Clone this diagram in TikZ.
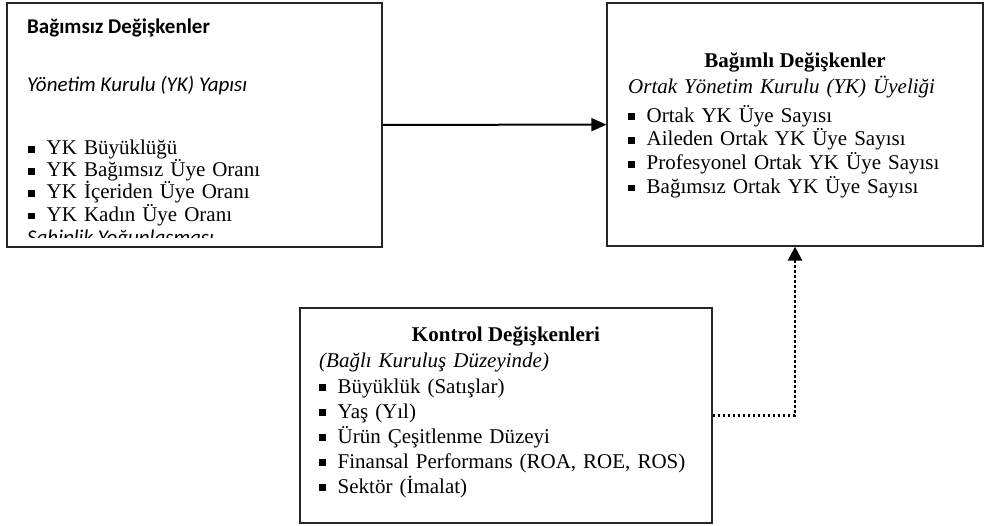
\documentclass[tikz,border=0pt]{standalone}
\usepackage{fontspec}
\setmainfont{Liberation Serif}
\newfontfamily\calibri{Carlito}
\usetikzlibrary{arrows.meta,positioning}
\newcommand{\kare}{\makebox[18.5pt][l]{\rule[1.8pt]{6.8pt}{6.8pt}}}
\tikzset{
  panel/.style={draw=black!85, line width=1.3pt, inner sep=0pt},
  head/.style={inner sep=0pt, anchor=base, font=\fontsize{21}{24}\selectfont\bfseries},
  lst/.style={inner sep=0pt, align=left, anchor=base west, text width=380pt},
  arrow/.style={-{Triangle[length=15pt,width=13pt]}, line width=2pt},
  dotarrow/.style={-{Triangle[length=14pt,width=14pt]}, line width=2.6pt, dash pattern=on 2.6pt off 2.4pt}
}
\begin{document}
\begin{tikzpicture}[x=1pt,y=-1pt]
\useasboundingbox (0,0) rectangle (984,525);
% frames
\node[panel, minimum width=375pt, minimum height=244pt] (lb) at (194.5,125) {};
\node[panel, minimum width=376pt, minimum height=243pt] (rb) at (795,124.5) {};
\node[panel, minimum width=412pt, minimum height=215pt] (cb) at (506,415.5) {};
% left box
\node[inner sep=0pt, anchor=base west, font=\calibri\fontsize{21}{24}\selectfont\bfseries] (lbhead) at (27,33) {Bağımsız Değişkenler};
\node[inner sep=0pt, anchor=base west, font=\calibri\fontsize{21}{24}\selectfont\itshape] (lbsub) at (27,91) {Yönetim Kurulu (YK) Yapısı};
\node[lst, text width=330pt, font=\fontsize{21}{22.2}\selectfont] (lblist) at (28,154.5) {\kare YK Büyüklüğü\\ \kare YK Bağımsız Üye Oranı\\ \kare YK İçeriden Üye Oranı\\ \kare YK Kadın Üye Oranı};
\begin{scope}
\clip (lb.north west) rectangle ([yshift=10pt]lb.south east);
\node[inner sep=0pt, anchor=base west, font=\calibri\fontsize{21}{24}\selectfont\itshape] (lbcut) at (27,244) {Sahiplik Yoğunlaşması};
\end{scope}
% right box
\node[head] (rbhead) at (795,67) {Bağımlı Değişkenler};
\node[lst, text width=340pt, font=\fontsize{21}{23.7}\selectfont] (rblist) at (628,93) {\textit{Ortak Yönetim Kurulu (YK) Üyeliği}\\[5.3pt] \kare Ortak YK Üye Sayısı\\ \kare Aileden Ortak YK Üye Sayısı\\ \kare Profesyonel Ortak YK Üye Sayısı\\ \kare Bağımsız Ortak YK Üye Sayısı};
% control box
\node[head] (cbhead) at (506,341) {Kontrol Değişkenleri};
\node[lst, font=\fontsize{21}{25}\selectfont] (cblist) at (319,367) {\textit{(Bağlı Kuruluş Düzeyinde)}\\[1pt] \kare Büyüklük (Satışlar)\\ \kare Yaş (Yıl)\\ \kare Ürün Çeşitlenme Düzeyi\\ \kare Finansal Performans (ROA, ROE, ROS)\\ \kare Sektör (İmalat)};
% connectors
\draw[arrow] (lb) -- (rb);
\draw[dotarrow] (cb.east) -| (rb.south);
\end{tikzpicture}
\end{document}
